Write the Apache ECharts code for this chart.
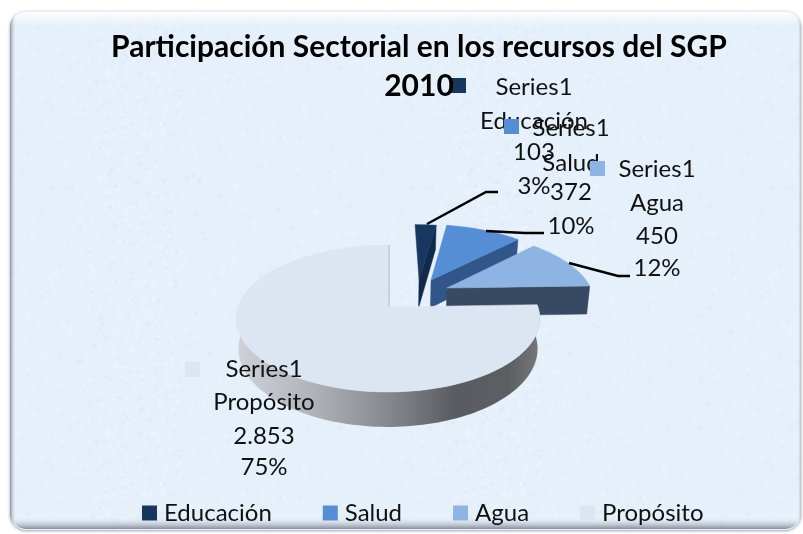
<!DOCTYPE html>
<html><head><meta charset="utf-8">
<style>html,body{margin:0;padding:0;background:#fff}#c{width:803px;height:534px}</style>
<script src="https://cdn.jsdelivr.net/npm/echarts@6/dist/echarts.min.js"></script>
</head><body><div id="c"></div>
<script>
const categories = ['Educación','Salud','Agua','Propósito'];
const values = [103,372,450,2853];
const valueLabels = ['103','372','450','2.853'];
const percentLabels = ['3%','10%','12%','75%'];
const seriesLabel = 'Series1';
const titleLines = ['Participación Sectorial en los recursos del SGP','2010'];

const colors = ['#17375e','#558ed5','#8eb4e3','#dce6f2'];
const wallColors = ['#12294a','#31568a','#384a62','#9a9da3'];
const FONT = 'Lato, Carlito, sans-serif';
// perspective disk -> screen
const CX=388, CY=307, A=71.7, B=150, P=0.156, D=29.5, BOTTOM_X=0.985;
const explode = [[0.22,0.4],[0.305,0.4],[0.41,0.276],[0,0]];
const labelPos = [
  {cx:534, ys:[87,121,152,186], key:[451,78], line:[[427,224],[486,192],[498,192]]},
  {cx:571, ys:[128,163,192,226], key:[504,119], line:[[486,231],[525,233],[544,233]]},
  {cx:657, ys:[169,203,236,268], key:[590,161], line:[[569,263],[618,276],[630,276]]},
  {cx:264, ys:[369,402,436,467], key:[185,362], line:null}
];
const total = values.reduce((a,b)=>a+b,0);
const starts = []; { let s=0; values.forEach(v=>{starts.push(s); s+=v/total*Math.PI*2;}); }

function proj(u,v){ const w=1+P*v; return [CX+B*u/w, CY-A*v/w, w]; }
function topPt(i,u,v){ const e=explode[i]; return proj(u+e[0],v+e[1]).slice(0,2); }
function lowPt(i,u,v){
  const e=explode[i], p=proj(u+e[0],v+e[1]);
  return [CX+(p[0]-CX)*BOTTOM_X, p[1]+D/p[2]];
}
function arc(i,a0,a1,fn){
  const n=Math.max(4,Math.ceil((a1-a0)/0.03)), pts=[];
  for(let k=0;k<=n;k++){ const a=a0+(a1-a0)*k/n; pts.push(fn(i,Math.sin(a),Math.cos(a))); }
  return pts;
}
function poly(points,fill,z2){ return {type:'polygon',shape:{points},style:{fill,stroke:fill,lineWidth:0.5},z2:z2||0}; }

function renderSlice(params,api){
  const i=params.seriesIndex, a0=starts[i], a1=a0+api.value(0)/total*Math.PI*2;
  const kids=[];
  const o=topPt(i,0,0), ob=lowPt(i,0,0);
  if(i<3){
    const e=topPt(i,Math.sin(a1),Math.cos(a1)), eb=lowPt(i,Math.sin(a1),Math.cos(a1));
    kids.push(poly([o,e,eb,ob],wallColors[i]));
  } else {
    const s=a0, t=Math.PI*1.62;
    const upper=arc(i,s,t,topPt), lower=arc(i,s,t,lowPt).reverse();
    kids.push({type:'polygon',shape:{points:upper.concat(lower)},style:{
      fill:new echarts.graphic.LinearGradient(0,0,1,0,[
        {offset:0,color:'#cfd2d8'},{offset:0.25,color:'#b0b3b9'},{offset:0.5,color:'#85888e'},
        {offset:0.72,color:'#5a5c61'},{offset:0.9,color:'#5c5e62'},{offset:1,color:'#76787b'}])
    }});
    kids.push({type:'polyline',shape:{points:[[CX+1,245],[CX+1,307]]},style:{stroke:'#bcc3cc',lineWidth:1.5,fill:null}});
  }
  kids.push(poly([o].concat(arc(i,a0,a1,topPt)),colors[i],1));
  return {type:'group',children:kids};
}
function renderLabel(params,api){
  const i=params.dataIndex, L=labelPos[i], kids=[];
  const lines=[seriesLabel,categories[i],valueLabels[i],percentLabels[i]];
  if(L.line) kids.push({type:'polyline',shape:{points:L.line},style:{stroke:'#000',lineWidth:2.5,fill:null}});
  lines.forEach((t,k)=>kids.push({type:'text',x:L.cx,y:L.ys[k],style:{text:t,fill:'#111',font:'24px '+FONT,align:'center',verticalAlign:'middle'}}));
  kids.push({type:'rect',shape:{x:L.key[0],y:L.key[1],width:15,height:15},style:{fill:colors[i]}});
  return {type:'group',children:kids};
}

function texture(){
  const S=360, c=document.createElement('canvas'); c.width=c.height=S;
  const g=c.getContext('2d'); g.fillStyle='#e6f0fb'; g.fillRect(0,0,S,S);
  for(let k=0;k<900;k++){
    const x=(k*97.3+Math.sin(k*1.7)*60+S)%S, y=(k*61.1+Math.cos(k*2.3)*70+S)%S, r=3+(k*13)%13;
    g.fillStyle=k%5<2?'rgba(205,220,243,0.17)':'rgba(255,255,255,0.17)';
    [[0,0],[-S,0],[0,-S],[-S,-S]].forEach(o=>{
      g.beginPath(); g.ellipse(x+o[0],y+o[1],r,r*0.55,k,0,Math.PI*2); g.fill();
    });
  }
  return c;
}

const chart=echarts.init(document.getElementById('c'),null,{renderer:'canvas'});
const series=categories.map((name,i)=>({
  type:'custom',name,coordinateSystem:'none',z:2+(i===3?1:0),
  itemStyle:{color:colors[i]},data:[[values[i]]],renderItem:renderSlice,silent:true,animation:false
}));
series.push({type:'custom',name:seriesLabel,coordinateSystem:'none',z:5,data:categories.map((c,i)=>[values[i]]),renderItem:renderLabel,silent:true,animation:false});
chart.setOption({
  animation:false,
  backgroundColor:'#fff',
  graphic:{elements:[
    {type:'rect',z:-2,shape:{x:10,y:11,width:791,height:519,r:16},style:{fill:{image:texture(),repeat:'repeat'},shadowBlur:3,shadowColor:'rgba(60,70,90,0.5)',shadowOffsetY:1}},
    {type:'rect',z:-1,shape:{x:11,y:12,width:789,height:517,r:15},style:{fill:new echarts.graphic.LinearGradient(0,0,0,1,[
      {offset:0,color:'rgba(255,255,255,0.95)'},{offset:0.025,color:'rgba(255,255,255,0)'},{offset:0.975,color:'rgba(255,255,255,0)'},{offset:1,color:'rgba(90,100,115,0.7)'}])}},
    {type:'rect',z:-1,shape:{x:10,y:11,width:791,height:519,r:16},style:{fill:new echarts.graphic.LinearGradient(0,0,1,0,[
      {offset:0,color:'rgba(100,115,135,0.75)'},{offset:0.008,color:'rgba(255,255,255,0)'},{offset:0.995,color:'rgba(255,255,255,0)'},{offset:1,color:'rgba(100,115,135,0.4)'}])}}
  ]},
  title:[
    {text:titleLines[0],left:414,top:27,textAlign:'center',textStyle:{fontFamily:FONT,fontSize:30,fontWeight:'bold',color:'#000'}},
    {text:titleLines[1],left:414,top:66,textAlign:'center',textStyle:{fontFamily:FONT,fontSize:30,fontWeight:'bold',color:'#000'}}
  ],
  legend:{data:categories,left:137,top:496,itemWidth:15,itemHeight:15,itemGap:51,icon:'rect',selectedMode:false,
    textStyle:{fontFamily:FONT,fontSize:24,color:'#111',padding:[0,0,0,2]}},
  series
});
</script></body></html>
